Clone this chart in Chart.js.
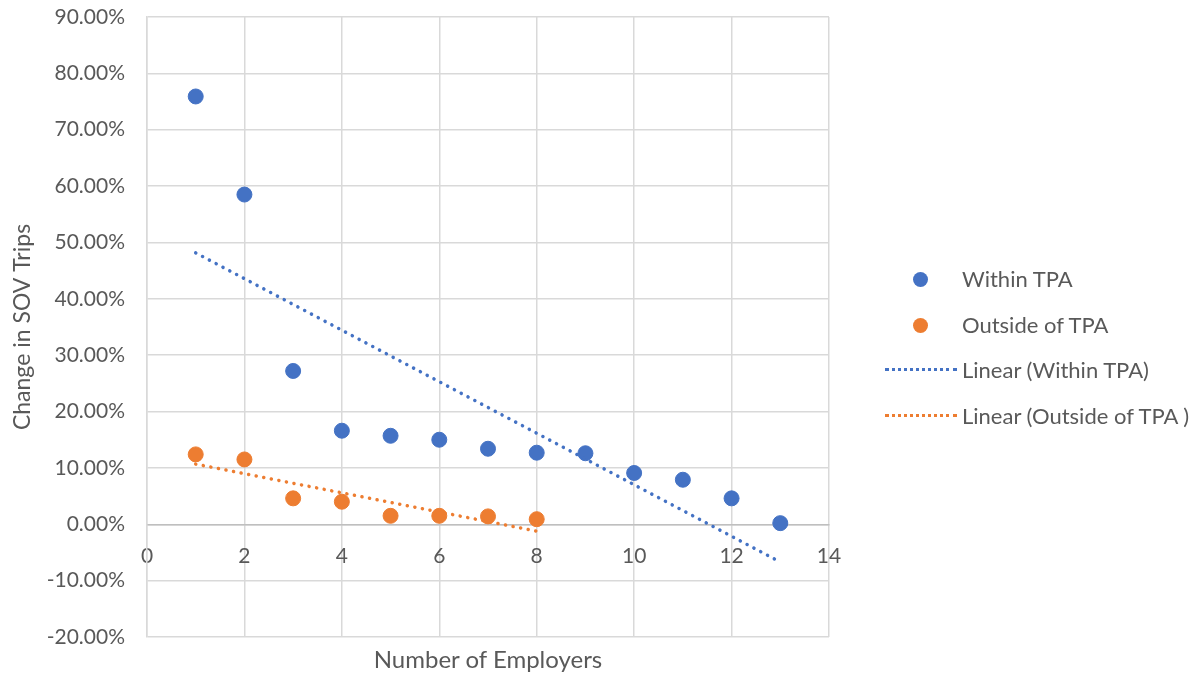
<!DOCTYPE html>
<html>
<head>
<meta charset="utf-8">
<script src="https://cdn.jsdelivr.net/npm/chart.js@4/dist/chart.umd.min.js"></script>
<style>
  body { margin: 0; background: #fff; font-family: Lato, sans-serif; }
  #wrap { position: relative; width: 1202px; height: 679px; }
  #chart { position: absolute; left: 0; top: 0; }
  .legend { position: absolute; left: 880px; top: 262px; color: #595959; font-size: 22px; }
  .item { position: relative; height: 45.5px; line-height: 34px; padding-left: 82px; white-space: nowrap; }
  .dot { position: absolute; left: 33px; top: 10px; width: 15px; height: 15px; border-radius: 50%; }
  .dash { position: absolute; left: 5px; top: 15px; width: 72px; height: 0; border-top: 3px dotted; }
  .xtitle { position: absolute; left: 147px; width: 682px; top: 645px; line-height: 28px; text-align: center; color: #595959; font-size: 24px; }
</style>
</head>
<body>
<div id="wrap">
  <canvas id="chart" width="1202" height="679"></canvas>
  <div class="xtitle">Number of Employers</div>
  <div class="legend">
    <div class="item"><span class="dot" style="background:#4472C4"></span>Within TPA</div>
    <div class="item"><span class="dot" style="background:#ED7D31"></span>Outside of TPA</div>
    <div class="item"><span class="dash" style="color:#4472C4"></span>Linear (Within TPA)</div>
    <div class="item"><span class="dash" style="color:#ED7D31"></span>Linear (Outside of TPA )</div>
  </div>
</div>
<script>
// number of employers
var withinX = [1, 2, 3, 4, 5, 6, 7, 8, 9, 10, 11, 12, 13];
var outsideX = [1, 2, 3, 4, 5, 6, 7, 8];
// change in SOV trips, percent
var withinY = [75.9, 58.5, 27.2, 16.6, 15.7, 15.0, 13.4, 12.7, 12.6, 9.1, 7.9, 4.6, 0.2];
var outsideY = [12.4, 11.5, 4.6, 4.0, 1.5, 1.5, 1.4, 0.9];

var blue = '#4472C4';
var orange = '#ED7D31';
var textColor = '#595959';

function points(xs, ys) {
  return xs.map(function (x, i) { return { x: x, y: ys[i] }; });
}

// least squares trendline, drawn between first and last x like Excel
function trend(xs, ys) {
  var n = xs.length, sx = 0, sy = 0, sxy = 0, sxx = 0;
  for (var i = 0; i < n; i++) {
    sx += xs[i]; sy += ys[i]; sxy += xs[i] * ys[i]; sxx += xs[i] * xs[i];
  }
  var m = (n * sxy - sx * sy) / (n * sxx - sx * sx);
  var b = (sy - m * sx) / n;
  var x0 = xs[0], x1 = xs[n - 1];
  return [{ x: x0, y: m * x0 + b }, { x: x1, y: m * x1 + b }];
}

function trendSet(label, xs, ys, color) {
  return {
    type: 'line',
    label: label,
    data: trend(xs, ys),
    borderColor: color,
    borderWidth: 3.5,
    borderDash: [0.1, 7.6],
    borderCapStyle: 'round',
    pointRadius: 0,
    fill: false
  };
}

Chart.defaults.font.family = 'Lato, sans-serif';
Chart.defaults.color = textColor;

var ctx = document.getElementById('chart');
var chart = new Chart(ctx, {
  type: 'scatter',
  data: {
    datasets: [
      trendSet('Linear (Within TPA)', withinX, withinY, blue),
      trendSet('Linear (Outside of TPA )', outsideX, outsideY, orange),
      {
        label: 'Within TPA',
        data: points(withinX, withinY),
        backgroundColor: blue,
        borderColor: blue,
        pointRadius: 7.5,
        pointHoverRadius: 7.5
      },
      {
        label: 'Outside of TPA',
        data: points(outsideX, outsideY),
        backgroundColor: orange,
        borderColor: orange,
        pointRadius: 7.5,
        pointHoverRadius: 7.5
      }
    ]
  },
  options: {
    responsive: false,
    animation: false,
    layout: { padding: { top: 17, right: 373, bottom: 42, left: 0 } },
    plugins: {
      legend: { display: false },
      tooltip: { enabled: false }
    },
    scales: {
      x: {
        type: 'linear',
        position: { y: 0 },
        min: 0,
        max: 14,
        ticks: { stepSize: 2, padding: 19, font: { size: 21 }, color: textColor },
        grid: { color: '#d9d9d9', lineWidth: 1.5, drawTicks: false },
        border: { color: '#bfbfbf', width: 1.5 }
      },
      y: {
        min: -20,
        max: 90,
        ticks: {
          stepSize: 10,
          padding: 22,
          font: { size: 21 },
          color: textColor,
          callback: function (v) { return v.toFixed(2) + '%'; }
        },
        grid: { color: '#d9d9d9', lineWidth: 1.5, drawTicks: false },
        border: { color: '#d9d9d9', width: 1.5 },
        title: { display: true, text: 'Change in SOV Trips', font: { size: 23 }, color: textColor, padding: { top: 9, bottom: 0 } },
        afterFit: function (scale) {
          scale.width = 147;
          scale.paddingTop = 0;
          scale.paddingBottom = 0;
        }
      }
    }
  }
});
</script>
</body>
</html>
